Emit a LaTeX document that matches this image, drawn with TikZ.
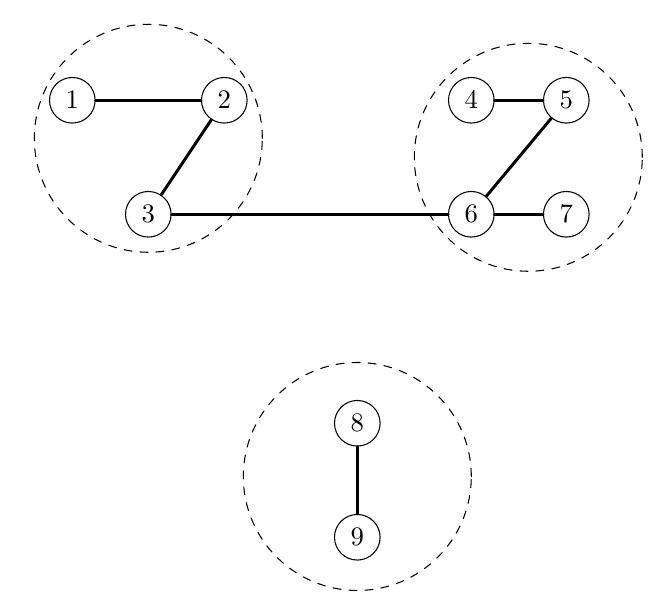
\documentclass[tikz,border=0pt]{standalone}
\usetikzlibrary{positioning}

\begin{document}
\begin{tikzpicture}[line cap=round,line join=round,x=0.5cm,y=0.5cm,
		vertex/.style={circle,draw,line width=0.4pt,minimum size=0.6cm,inner sep=0pt},
		edge/.style={line width=1.1pt},
		cluster/.style={dashed,line width=0.4pt}]
		\useasboundingbox (-1.903,-13.361) rectangle (15.703,2.639);
		% groups
		\draw [cluster] (2,-1) circle (3);
		\draw [cluster] (12,-1.5) circle (3);
		\draw [cluster] (7.5,-9.9) circle (3);
		% vertices
		\node [vertex] (v1) at (0,0) {$1$};
		\node [vertex] (v2) at (4,0) {$2$};
		\node [vertex] (v3) at (2,-3) {$3$};
		\node [vertex] (v4) at (10.5,0) {$4$};
		\node [vertex] (v5) at (13,0) {$5$};
		\node [vertex] (v6) at (10.5,-3) {$6$};
		\node [vertex] (v7) at (13,-3) {$7$};
		\node [vertex] (v8) at (7.5,-8.5) {$8$};
		\node [vertex] (v9) at (7.5,-11.5) {$9$};
		% edges
		\draw [edge] (v1) -- (v2);
		\draw [edge] (v2) -- (v3);
		\draw [edge] (v3) -- (v6);
		\draw [edge] (v4) -- (v5);
		\draw [edge] (v5) -- (v6);
		\draw [edge] (v6) -- (v7);
		\draw [edge] (v8) -- (v9);
	\end{tikzpicture}
\end{document}
